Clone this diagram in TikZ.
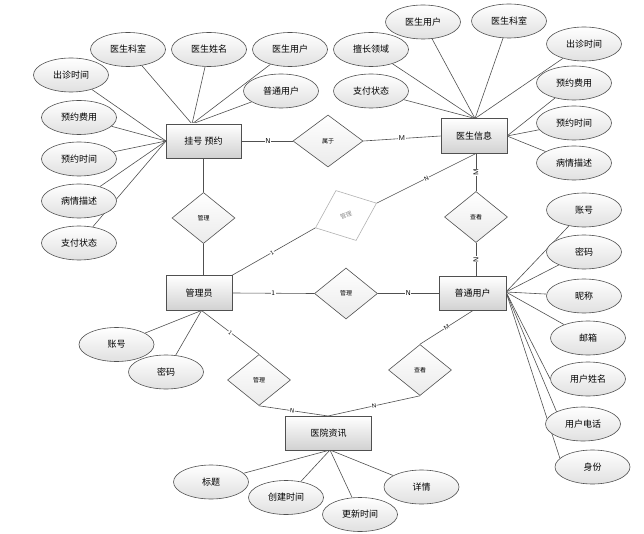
\documentclass[tikz,border=0pt]{standalone}
\usepackage{fontspec}
\newfontfamily\cjk{Noto Sans CJK SC}
\usetikzlibrary{shapes.geometric}
\pgfdeclarelayer{bg}
\pgfsetlayers{bg,main}
\definecolor{ln}{HTML}{505050}
\tikzset{
  ent/.style={rectangle, draw=ln, line width=0.8pt, top color=white, bottom color=black!18,
    minimum width=66pt, minimum height=35pt, inner sep=1pt, font=\cjk\fontsize{9}{10}\selectfont},
  attr/.style={ellipse, draw=ln, line width=0.6pt, top color=white, bottom color=black!12,
    minimum width=75pt, minimum height=34pt, inner sep=0pt, font=\cjk\fontsize{9}{10}\selectfont},
  rel/.style={diamond, draw=ln, line width=0.6pt, top color=white, bottom color=black!8,
    minimum width=63pt, minimum height=51pt, inner sep=0pt, font=\cjk\fontsize{6}{6}\selectfont},
  conn/.style={draw=ln, line width=0.6pt},
  card/.style={fill=white, inner sep=0.4pt, font=\sffamily\fontsize{7}{7}\selectfont},
  scard/.style={card, sloped, font=\sffamily\fontsize{6}{6}\selectfont}
}
\begin{document}
\begin{tikzpicture}[x=1pt,y=-1pt]
\useasboundingbox (0,0) rectangle (644,534);
% entities
\node[ent, minimum width=75pt, minimum height=34pt] (gh) at (203.5,141) {挂号 预约};
\node[ent] (ys) at (474,136) {医生信息};
\node[ent] (gl) at (199,293) {管理员};
\node[ent, minimum width=67pt, minimum height=34pt] (pu) at (472.5,293.5) {普通用户};
\node[ent, minimum width=86pt, minimum height=34pt] (zx) at (328.7,433) {医院资讯};
% relationships
\node[rel] (r1) at (203.5,218) {管理};
\node[rel, minimum width=70pt, minimum height=52pt] (r2) at (328,141) {属于};
\node[rel] (r3) at (476,217) {查看};
\node[rel, rotate=22, minimum width=66pt, minimum height=54pt, draw=black!30, top color=white, bottom color=white, text=black!45] (rg) at (346,215.5) {管理};
\node[rel] (r4) at (346,293.5) {管理};
\node[rel] (r5) at (420,370) {查看};
\node[rel] (r6) at (259,380) {管理};
% attributes of 挂号预约
\node[attr] (a1) at (128,49.5) {医生科室};
\node[attr] (a2) at (209,49.5) {医生姓名};
\node[attr] (a3) at (290,49.5) {医生用户};
\node[attr] (a4) at (71,75) {出诊时间};
\node[attr] (a5) at (281,91) {普通用户};
\node[attr] (a6) at (79,117.5) {预约费用};
\node[attr] (a7) at (79,159) {预约时间};
\node[attr] (a8) at (79,201) {病情描述};
\node[attr] (a9) at (79,243) {支付状态};
% attributes of 医生信息
\node[attr] (b1) at (423,22) {医生用户};
\node[attr] (b2) at (509,21) {医生科室};
\node[attr] (b3) at (371,49.5) {擅长领域};
\node[attr] (b4) at (584,44) {出诊时间};
\node[attr] (b5) at (371,91) {支付状态};
\node[attr] (b6) at (574,83) {预约费用};
\node[attr] (b7) at (574,123) {预约时间};
\node[attr] (b8) at (574,163) {病情描述};
% attributes of 普通用户
\node[attr] (c1) at (584,210) {账号};
\node[attr] (c2) at (584,252) {密码};
\node[attr] (c3) at (584,296) {昵称};
\node[attr] (c4) at (588,338) {邮箱};
\node[attr] (c5) at (588,379) {用户姓名};
\node[attr] (c6) at (583,424) {用户电话};
\node[attr] (c7) at (592.5,467) {身份};
% attributes of 管理员
\node[attr] (d1) at (116.5,344.5) {账号};
\node[attr] (d2) at (166,372) {密码};
% attributes of 医院资讯
\node[attr] (e1) at (211,482) {标题};
\node[attr] (e2) at (286,497.5) {创建时间};
\node[attr] (e3) at (360,514.5) {更新时间};
\node[attr] (e4) at (421.5,487) {详情};
% attachment points
\coordinate (ghT) at (192,124);
\coordinate (ghL) at (166,141);
\coordinate (ysT) at (475,118.5);
\coordinate (ysR) at (507,136);
\coordinate (ysB) at (476,153.5);
\coordinate (puR) at (506,292);
\coordinate (puB) at (473,310.5);
\coordinate (glB) at (201.5,310.5);
\coordinate (zxT) at (328,416);
\coordinate (zxB) at (330,450);
\begin{pgfonlayer}{bg}
\foreach \a in {a1,a2,a3,a5} \draw[conn] (ghT) -- (\a);
\foreach \a in {a4,a6,a7,a8,a9} \draw[conn] (ghL) -- (\a);
\foreach \a in {b1,b2,b3,b4,b5} \draw[conn] (ysT) -- (\a);
\foreach \a in {b6,b7,b8} \draw[conn] (ysR) -- (\a);
\foreach \a in {c1,c2,c3,c4} \draw[conn] (puR) -- (\a);
\draw[conn] (puR) -- (c5.west);
\draw[conn] (puR) -- (c6.155);
\draw[conn] (puR) -- (c7.165);
\foreach \a in {d1,d2} \draw[conn] (glB) -- (\a);
\foreach \a in {e1,e2,e3,e4} \draw[conn] (zxB) -- (\a);
% relationship connectors
\draw[conn] (gh.east) -- (r2.west);
\draw[conn] (r2.east) -- (ys.west);
\draw[conn] (gh.south) -- (r1.north);
\draw[conn] (r1.south) -- (r1.south |- gl.north);
\draw[conn] (ysB) -- (r3.north);
\draw[conn] (r3.south) -- (r3.south |- pu.north);
\draw[conn] (gl.east) -- (r4.west);
\draw[conn] (r4.east) -- (pu.west);
\draw[conn] (gl.north east) -- (rg.west);
\draw[conn] (rg.east) -- (ysB);
\draw[conn] (glB) -- (r6.north);
\draw[conn] (r6.south) -- (zxT);
\draw[conn] (puB) -- (r5.north);
\draw[conn] (r5.south) -- (zxT);
\end{pgfonlayer}
% cardinality labels
\path (gh.east) -- node[card, pos=0.52] {N} (r2.west);
\path (r2.east) -- node[card] {M} (ys.west);
\path (ysB) -- node[card, rotate=90] {M} (r3.north);
\path (r3.south) -- node[card, rotate=90] {N} (r3.south |- pu.north);
\path (gl.east) -- node[card] {1} (r4.west);
\path (r4.east) -- node[card] {N} (pu.west);
\path (gl.north east) -- node[scard, pos=0.48] {1} (rg.west);
\path (rg.east) -- node[scard] {N} (ysB);
\path (glB) -- node[scard] {1} (r6.north);
\path (r6.south) -- node[scard, pos=0.48] {N} (zxT);
\path (puB) -- node[scard] {M} (r5.north);
\path (r5.south) -- node[scard] {N} (zxT);
\end{tikzpicture}
\end{document}
